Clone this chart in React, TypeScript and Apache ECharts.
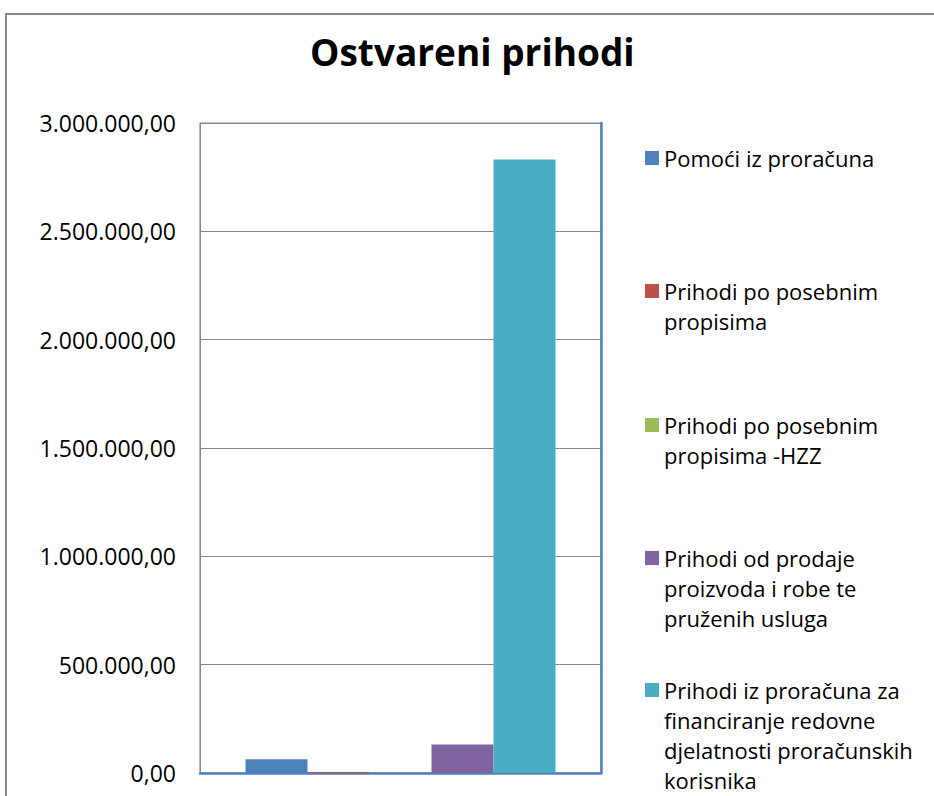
import React, { useEffect, useRef } from "react";
import * as echarts from "echarts";

const seriesNames = [
  "Pomoći iz proračuna",
  "Prihodi po posebnim propisima",
  "Prihodi po posebnim propisima -HZZ",
  "Prihodi od prodaje proizvoda i robe te pruženih usluga",
  "Prihodi iz proračuna za financiranje redovne djelatnosti proračunskih korisnika",
];
const legendLines = [
  ["Pomoći iz proračuna"],
  ["Prihodi po posebnim", "propisima"],
  ["Prihodi po posebnim", "propisima -HZZ"],
  ["Prihodi od prodaje", "proizvoda i robe te", "pruženih usluga"],
  ["Prihodi iz proračuna za", "financiranje redovne", "djelatnosti proračunskih", "korisnika"],
];
const seriesValues = [63000, 5000, 0, 132000, 2831000];
const seriesColors = ["#4F81BD", "#C0504D", "#9BBB59", "#8064A2", "#4BACC6"];
const categories = [""];
const yMin = 0;
const yMax = 3000000;
const yInterval = 500000;

const FONT = "'Open Sans', 'Noto Sans', sans-serif";
const LEGEND_LH = 30;
const legendIconCenters = [158, 291, 425, 558, 690];

function fmt(v: number): string {
  const s = Math.round(v).toString();
  const withDots = s.replace(/\B(?=(\d{3})+(?!\d))/g, ".");
  return withDots + ",00";
}

export default function App() {
  const ref = useRef<HTMLDivElement>(null);
  useEffect(() => {
    if (!ref.current) return;
    const chart = echarts.init(ref.current, undefined, { renderer: "svg" });
    const legends = seriesNames.map((name, i) => {
      const n = legendLines[i].length;
      // leading blank lines keep the icon level with the first text line
      const text = "\n".repeat(n - 1) + legendLines[i].join("\n");
      return {
        data: [name],
        left: 645,
        top: legendIconCenters[i] - ((2 * n - 1) * LEGEND_LH) / 2,
        orient: "vertical",
        padding: 0,
        itemWidth: 14,
        itemHeight: 14,
        icon: "rect",
        selectedMode: false,
        formatter: () => text,
        textStyle: {
          fontFamily: FONT,
          fontSize: 22,
          color: "#000",
          lineHeight: LEGEND_LH,
        },
      };
    });
    chart.setOption({
      animation: false,
      backgroundColor: "#fff",
      title: {
        text: "Ostvareni prihodi",
        left: 310,
        top: 33,
        padding: 0,
        textStyle: {
          fontFamily: FONT,
          fontSize: 37,
          fontWeight: "bold",
          color: "#000",
        },
      },
      graphic: [
        {
          type: "rect",
          shape: { x: 6, y: 14, width: 1200, height: 1200 },
          style: { fill: "none", stroke: "#898989", lineWidth: 2 },
          silent: true,
        },
      ],
      legend: legends,
      grid: {
        left: 200,
        top: 123,
        width: 401,
        height: 650,
        show: true,
        borderColor: "#4F81BD",
        borderWidth: 1,
        backgroundColor: "transparent",
      },
      xAxis: {
        type: "category",
        data: categories,
        axisLine: { show: true, lineStyle: { color: "#4F81BD", width: 2.5 } },
        axisTick: { show: false },
        axisLabel: { show: false },
        splitLine: { show: false },
      },
      yAxis: [
        {
          type: "value",
          min: yMin,
          max: yMax,
          interval: yInterval,
          axisLine: { show: true, lineStyle: { color: "#868686", width: 1 } },
          axisTick: { show: false },
          axisLabel: {
            fontFamily: FONT,
            fontSize: 23,
            color: "#000",
            margin: 24,
            formatter: (v: number) => fmt(v),
          },
          splitLine: { show: true, lineStyle: { color: "#868686", width: 1.2 } },
        },
        {
          type: "value",
          min: yMin,
          max: yMax,
          interval: yInterval,
          position: "right",
          axisLine: { show: true, lineStyle: { color: "#4F81BD", width: 2.5 } },
          axisTick: { show: false },
          axisLabel: { show: false },
          splitLine: { show: false },
        },
      ],
      series: seriesNames.map((name, i) => ({
        name,
        type: "bar",
        yAxisIndex: 0,
        data: [seriesValues[i]],
        itemStyle: { color: seriesColors[i] },
        barGap: "0%",
        barCategoryGap: "22.7%",
        z: 3,
      })),
    });
    return () => chart.dispose();
  }, []);
  return (
    <div
      ref={ref}
      style={{ position: "fixed", left: 0, top: 0, width: 934, height: 796 }}
    />
  );
}
